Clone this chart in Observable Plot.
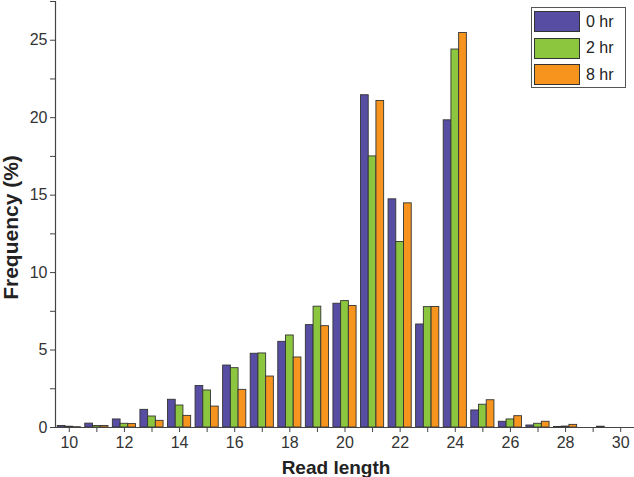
<!DOCTYPE html>
<html>
<head>
<meta charset="utf-8">
<script src="https://cdn.jsdelivr.net/npm/d3@7"></script>
<script src="https://cdn.jsdelivr.net/npm/@observablehq/plot@0.6"></script>
<style>
  html, body { margin: 0; padding: 0; background: #fff; }
  #wrap { position: relative; width: 634px; height: 477px; font-family: "Liberation Sans", Arial, sans-serif; }
  #legend { position: absolute; left: 531px; top: 7px; width: 93px; height: 79px; border: 1px solid #555; background: #fff; box-sizing: content-box; }
  .row { position: absolute; left: 2px; height: 23px; display: flex; align-items: center; }
  .sw { width: 46px; height: 21px; border: 1px solid #333; box-sizing: border-box; }
  .lab { margin-left: 6px; font-size: 16px; color: #222; }
</style>
</head>
<body>
<div id="wrap"></div>
<script>
const lengths = [10,11,12,13,14,15,16,17,18,19,20,21,22,23,24,25,26,27,28,29,30];
const series = ["0 hr", "2 hr", "8 hr"];
const colors = ["#574ea3", "#8cc63f", "#f7941d"];
const hr0 = [0.10,0.25,0.52,1.14,1.79,2.68,4.00,4.76,5.53,6.61,7.99,21.45,14.73,6.65,19.83,1.10,0.37,0.13,0.03,0.00,0.00];
const hr2 = [0.05,0.10,0.24,0.71,1.42,2.39,3.83,4.78,5.94,7.80,8.16,17.50,11.97,7.77,24.40,1.47,0.52,0.24,0.06,0.00,0.00];
const hr8 = [0.02,0.10,0.22,0.43,0.75,1.35,2.43,3.29,4.52,6.54,7.84,21.08,14.47,7.78,25.47,1.76,0.73,0.37,0.17,0.05,0.00];
const xTicks = d3.range(10, 31, 1);
const yTicks = d3.range(0, 27.6, 2.5);

const values = [hr0, hr2, hr8];
const barW = 0.28;
const data = [];
series.forEach((s, i) => {
  lengths.forEach((L, j) => {
    const v = values[i][j];
    if (v > 0) data.push({len: L, series: s, value: v, x1: L + (i - 1.5) * barW, x2: L + (i - 0.5) * barW});
  });
});

const plot = Plot.plot({
  width: 634,
  height: 477,
  marginLeft: 55,
  marginRight: 0,
  marginTop: 1,
  marginBottom: 50,
  style: {fontFamily: "Liberation Sans, Arial, sans-serif", fontSize: "16px", color: "#333", background: "#fff"},
  x: {domain: [9.5, 30.5]},
  y: {domain: [0, 27.5]},
  color: {domain: series, range: colors},
  marks: [
    Plot.rectY(data, {x1: "x1", x2: "x2", y1: 0, y2: "value", fill: "series", stroke: "#333", strokeWidth: 0.9}),
    Plot.axisX({ticks: xTicks, tickFormat: d => d % 2 === 0 ? d : "", tickSize: 5, tickPadding: 4, fontSize: 16, fill: "#333", stroke: "#444", label: null}),
    Plot.axisY({ticks: yTicks, tickFormat: d => d % 5 === 0 ? d : "", tickSize: 5, tickPadding: 3, fontSize: 16, fill: "#333", stroke: "#444", label: null}),
    Plot.ruleX([9.5], {stroke: "#444", strokeWidth: 1.2}),
    Plot.ruleY([0], {stroke: "#444", strokeWidth: 1.2}),
    Plot.text(["Read length"], {frameAnchor: "bottom", dy: 46, dx: -9, text: d => d, fontWeight: "bold", fontSize: 19, fill: "#222"}),
    Plot.text(["Frequency (%)"], {frameAnchor: "left", textAnchor: "middle", dx: -44, dy: 13, rotate: -90, text: d => d, fontWeight: "bold", fontSize: 21, fill: "#222"})
  ]
});

const wrap = document.getElementById("wrap");
wrap.appendChild(plot);

const legend = document.createElement("div");
legend.id = "legend";
series.forEach((s, i) => {
  const row = document.createElement("div");
  row.className = "row";
  row.style.top = (2 + i * 26.5) + "px";
  const sw = document.createElement("div");
  sw.className = "sw";
  sw.style.background = colors[i];
  const lab = document.createElement("span");
  lab.className = "lab";
  lab.textContent = s;
  row.appendChild(sw);
  row.appendChild(lab);
  legend.appendChild(row);
});
wrap.appendChild(legend);
</script>
</body>
</html>
